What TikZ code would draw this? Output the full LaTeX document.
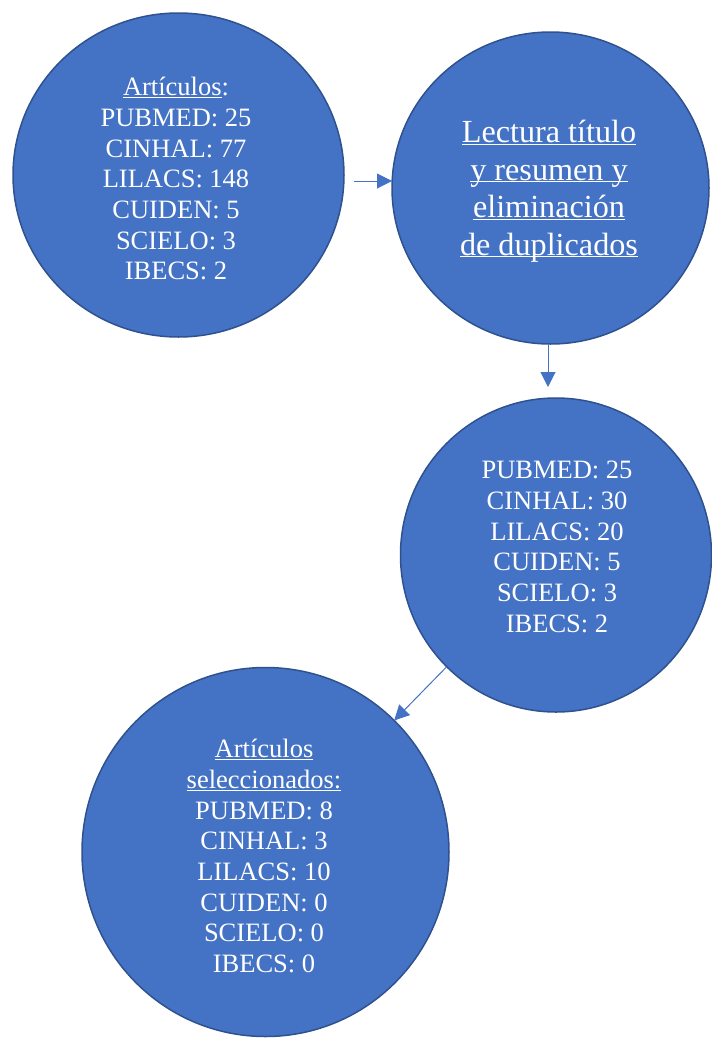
\documentclass[tikz,border=0pt]{standalone}
\usepackage{fontspec}
\setmainfont{Liberation Serif}
\usetikzlibrary{shapes.geometric,arrows.meta}
\definecolor{blobfill}{HTML}{4472C4}
\definecolor{blobdraw}{HTML}{2F528F}
\newcommand\myul[1]{\underline{\smash{#1}}\vphantom{#1}}
\tikzset{
  blob/.style={ellipse, fill=blobfill, draw=blobdraw, line width=1.5pt, inner sep=0pt, outer sep=0pt},
  blobtext/.style={text=white, align=center, anchor=north, inner sep=0pt, font=\fontsize{26.5}{30.7}\selectfont},
  bigtext/.style={text=white, align=center, anchor=north, inner sep=0pt, font=\fontsize{32.2}{37.5}\selectfont},
  arr/.style={draw=blobfill, line width=1pt, -{Triangle[length=15pt,width=15pt]}}
}
\begin{document}
\begin{tikzpicture}[x=1pt,y=-1pt]
\useasboundingbox (0,0) rectangle (712,1039);
\node[blob, minimum width=331pt, minimum height=324pt] (c1) at (178.5,175) {};
\node[blob, minimum width=317pt, minimum height=312pt] (c2) at (550.5,188) {};
\node[blob, minimum width=311pt, minimum height=314pt] (c3) at (556,555) {};
\node[blob, minimum width=367pt, minimum height=369pt] (c4) at (265.5,852) {};
\node[blobtext] (t1) at (176,77) {\myul{Artículos}:\\PUBMED: 25\\CINHAL: 77\\LILACS: 148\\CUIDEN: 5\\SCIELO: 3\\IBECS: 2};
\node[bigtext] (t2) at (549,120) {\myul{Lectura título}\\\myul{y resumen y}\\\myul{eliminación}\\\myul{de duplicados}};
\node[blobtext] (t3) at (557,461) {PUBMED: 25\\CINHAL: 30\\LILACS: 20\\CUIDEN: 5\\SCIELO: 3\\IBECS: 2};
\node[blobtext] (t4) at (264,739) {\myul{Artículos}\\\myul{seleccionados:}\\PUBMED: 8\\CINHAL: 3\\LILACS: 10\\CUIDEN: 0\\SCIELO: 0\\IBECS: 0};
\draw[arr] ([xshift=10pt,yshift=-6pt]c1.east) -- ([yshift=7pt]c2.west);
\draw[arr] ([xshift=-2.5pt]c2.south) -- ([xshift=-8pt,yshift=11pt]c3.north);
\draw[arr] (c3) -- (c4);
\end{tikzpicture}
\end{document}
